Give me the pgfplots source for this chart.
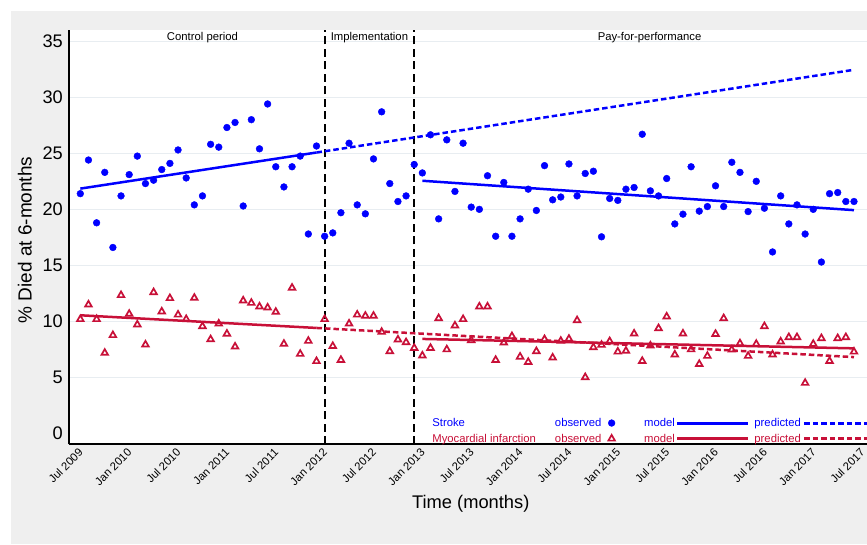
\documentclass[border=0pt]{standalone}
\usepackage{pgfplots}
\pgfplotsset{compat=1.18}
\usepackage{pgfplotstable}
\usepackage{fontspec}
\setmainfont{Liberation Sans}
\definecolor{strk}{RGB}{0,0,255}
\definecolor{mi}{RGB}{200,16,56}
\definecolor{panel}{RGB}{239,239,239}
\definecolor{gridc}{RGB}{232,237,241}

\pgfplotsset{
  legmark/.style={legend image code/.code={\path (0pt,0pt) (12pt,0pt); \draw[##1] plot coordinates {(6pt,0pt)};}},
  legmodel/.style={legend image code/.code={\draw[##1] (0pt,0pt) -- (71pt,0pt);}},
  legpred/.style={legend image code/.code={\draw[##1] (0pt,0pt) -- (63pt,0pt);}},
}

\pgfplotstableread{
m v
0 21.4
1 24.4
2 18.8
3 23.3
4 16.6
5 21.2
6 23.1
7 24.75
8 22.3
9 22.6
10 23.55
11 24.1
12 25.3
13 22.8
14 20.4
15 21.2
16 25.8
17 25.55
18 27.3
19 27.75
20 20.3
21 28.0
22 25.4
23 29.4
24 23.8
25 22.0
26 23.8
27 24.75
28 17.8
29 25.65
30 17.6
31 17.9
32 19.7
33 25.9
34 20.4
35 19.6
36 24.5
37 28.7
38 22.3
39 20.7
40 21.2
41 24.0
42 23.25
43 26.65
44 19.15
45 26.2
46 21.6
47 25.9
48 20.2
49 20.0
50 23.0
51 17.6
52 22.4
53 17.6
54 19.15
55 21.8
56 19.9
57 23.9
58 20.85
59 21.1
60 24.05
61 21.2
62 23.2
63 23.4
64 17.55
65 20.97
66 20.8
67 21.8
68 21.95
69 26.7
70 21.65
71 21.2
72 22.75
73 18.7
74 19.57
75 23.8
76 19.84
77 20.25
78 22.1
79 20.25
80 24.2
81 23.3
82 19.8
83 22.5
84 20.1
85 16.2
86 21.2
87 18.7
88 20.4
89 17.8
90 20.0
91 15.3
92 21.4
93 21.5
94 20.7
95 20.7
}\strokedata

\pgfplotstableread{
m v
0 10.2
1 11.5
2 10.2
3 7.19
4 8.77
5 12.34
6 10.67
7 9.72
8 7.93
9 12.6
10 10.88
11 12.07
12 10.6
13 10.2
14 12.1
15 9.57
16 8.4
17 9.8
18 8.9
19 7.75
20 11.86
21 11.65
22 11.32
23 11.23
24 10.85
25 8.0
26 13.0
27 7.1
28 8.26
29 6.45
30 10.2
31 7.8
32 6.56
33 9.8
34 10.6
35 10.5
36 10.5
37 9.06
38 7.34
39 8.38
40 8.14
41 7.63
42 6.95
43 7.63
44 10.28
45 7.5
46 9.63
47 10.2
48 8.32
49 11.32
50 11.32
51 6.56
52 8.11
53 8.68
54 6.85
55 6.38
56 7.34
57 8.41
58 6.77
59 8.26
60 8.44
61 10.1
62 5.02
63 7.69
64 7.9
65 8.23
66 7.3
67 7.37
68 8.91
69 6.47
70 7.84
71 9.39
72 10.43
73 7.04
74 8.91
75 7.5
76 6.2
77 6.92
78 8.88
79 10.28
80 7.48
81 8.04
82 6.92
83 7.99
84 9.57
85 7.04
86 8.2
87 8.59
88 8.59
89 4.51
90 7.99
91 8.5
92 6.47
93 8.5
94 8.59
95 7.3
}\midata

\begin{document}
\begin{tikzpicture}[x=1pt,y=1pt]
\fill[panel] (-58,-99.7) rectangle (798,433.3);
\begin{axis}[
  at={(0,0)}, anchor=south west,
  scale only axis, width=798pt, height=414.3pt,
  xmin=-1.39, xmax=96.6, ymin=-0.96, ymax=36,
  axis x line*=bottom, axis y line*=left,
  axis line style={line width=1.8pt, black, -},
  axis background/.style={fill=white},
  tick style={draw=none},
  ytick={5,10,...,35},
  extra y ticks={0}, extra y tick style={grid=none},
  ymajorgrids, grid style={gridc, line width=1.3pt},
  /pgf/number format/assume math mode=true,
  yticklabel style={font=\fontsize{18.2}{20}\selectfont, anchor=east, inner sep=0pt, xshift=-6pt},
  xtick={0,6,...,96},
  xticklabels={Jul 2009,Jan 2010,Jul 2010,Jan 2011,Jul 2011,Jan 2012,Jul 2012,Jan 2013,Jul 2013,Jan 2014,Jul 2014,Jan 2015,Jul 2015,Jan 2016,Jul 2016,Jan 2017,Jul 2017},
  xticklabel style={font=\fontsize{11.3}{13}\selectfont, rotate=45, anchor=east, inner sep=0pt, xshift=-3.96pt, yshift=-4.8pt},
  xlabel={Time (months)},
  ylabel={\% Died at 6-months},
  every axis x label/.style={at={(axis description cs:0.5035,-0.1545)}, anchor=base, font=\fontsize{18.3}{20}\selectfont},
  every axis y label/.style={at={(axis description cs:-0.0467,0.493)}, anchor=base, rotate=90, font=\fontsize{19}{21}\selectfont},
  legend columns=4, legend plot pos=right,
  legend style={at={(0.4553,0.063)}, anchor=north west, draw=none, fill=none,
    inner sep=0pt, outer sep=0pt, row sep=6pt,
    font=\fontsize{11.3}{13}\selectfont, nodes={inner sep=0pt}, cells={anchor=west},
    /tikz/column 1/.style={column sep=0pt},
    /tikz/column 2/.style={column sep=19pt},
    /tikz/column 3/.style={column sep=4pt},
    /tikz/column 4/.style={column sep=26.3pt},
    /tikz/column 5/.style={column sep=0.5pt},
    /tikz/column 6/.style={column sep=5pt},
    /tikz/column 7/.style={column sep=2pt}},
  clip=false,
]
% period separators
\addplot[forget plot, black, line width=2pt, dash pattern=on 8pt off 4.5pt] coordinates {(30,-0.96) (30,36)};
\addplot[forget plot, black, line width=2pt, dash pattern=on 8pt off 4.5pt] coordinates {(41,-0.96) (41,36)};
% observed
\addplot[forget plot, only marks, mark=*, mark size=3.4pt, strk, mark options={draw=strk, fill=strk}] table[x=m,y=v] {\strokedata};
\addplot[forget plot, only marks, mark=triangle, mark size=3.8pt, mi, mark options={line width=1.7pt, draw=mi, fill=white}] table[x=m,y=v] {\midata};
% models
\addplot[forget plot, strk, line width=2.5pt] coordinates {(0,21.85) (29,25.07)};
\addplot[forget plot, strk, line width=2.5pt, dash pattern=on 5.5pt off 3pt] coordinates {(29,25.07) (95,32.45)};
\addplot[forget plot, strk, line width=2.5pt] coordinates {(42,22.55) (95,19.93)};
\addplot[forget plot, mi, line width=2.5pt] coordinates {(0,10.55) (29,9.42)};
\addplot[forget plot, mi, line width=2.5pt, dash pattern=on 5.5pt off 3pt] coordinates {(29,9.42) (95,6.82)};
\addplot[forget plot, mi, line width=2.5pt] coordinates {(42,8.44) (95,7.6)};
% period labels
\node[anchor=base, font=\fontsize{11.3}{13}\selectfont] at (axis cs:15,35.07) {Control period};
\node[anchor=base, font=\fontsize{11.3}{13}\selectfont] at (axis cs:35.5,35.07) {Implementation};
\node[anchor=base, font=\fontsize{11.3}{13}\selectfont] at (axis cs:69.9,35.07) {Pay-for-performance};
% legend
\addlegendimage{empty legend}
\addlegendentry[text=strk]{Stroke}
\addlegendimage{strk, only marks, mark=*, mark size=3.4pt, mark options={fill=strk}, legmark}
\addlegendentry[text=strk]{observed}
\addlegendimage{strk, line width=3pt, legmodel}
\addlegendentry[text=strk]{model}
\addlegendimage{strk, line width=3pt, dash pattern=on 5.5pt off 3pt, legpred}
\addlegendentry[text=strk]{predicted}
\addlegendimage{empty legend}
\addlegendentry[text=mi]{Myocardial infarction}
\addlegendimage{mi, only marks, mark=triangle, mark size=3.8pt, mark options={line width=1.7pt, fill=white}, legmark}
\addlegendentry[text=mi]{observed}
\addlegendimage{mi, line width=3pt, legmodel}
\addlegendentry[text=mi]{model}
\addlegendimage{mi, line width=3pt, dash pattern=on 5.5pt off 3pt, legpred}
\addlegendentry[text=mi]{predicted}
\end{axis}
\pgfresetboundingbox
\useasboundingbox (-69,-99.7) rectangle (798,444.3);
\end{tikzpicture}
\end{document}
